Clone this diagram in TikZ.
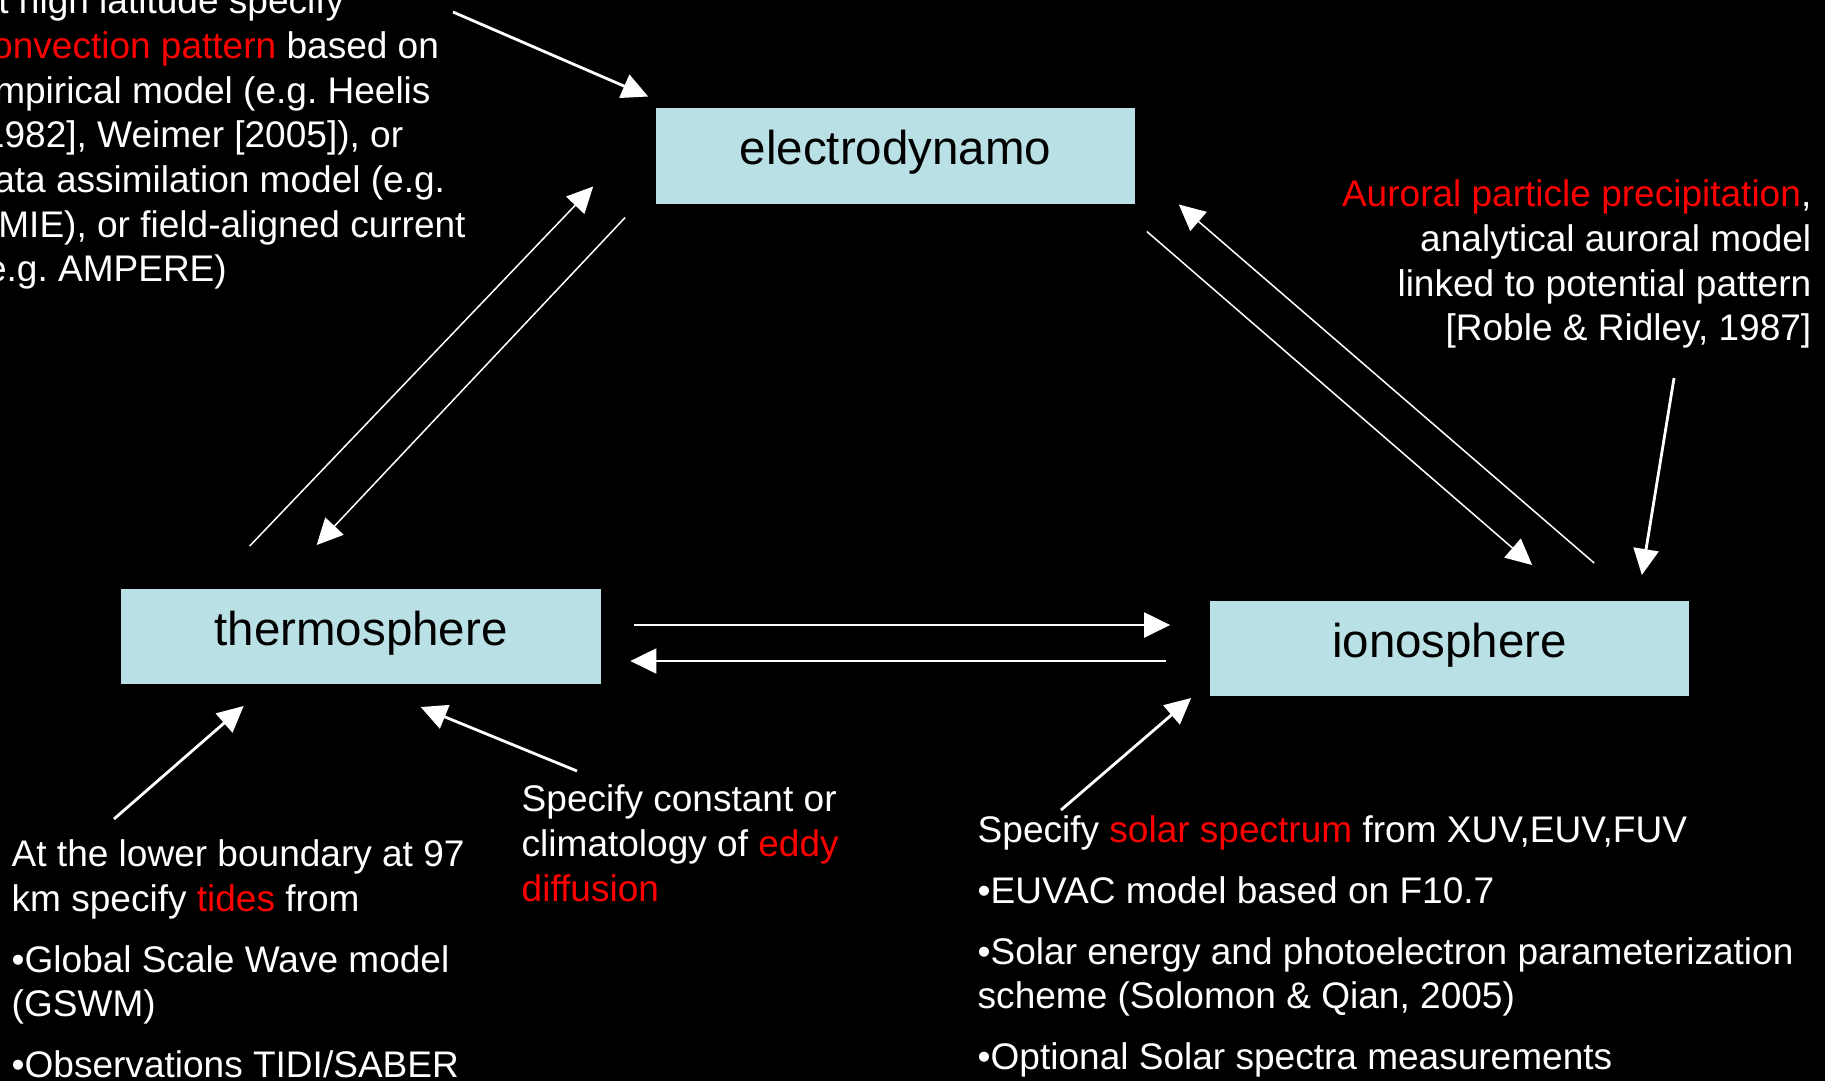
\documentclass[tikz,border=0pt]{standalone}
\usepackage{fontspec}
\setmainfont{Liberation Sans}
\usetikzlibrary{arrows.meta}

\definecolor{boxblue}{RGB}{185,224,228}
\newcommand{\redtxt}[1]{\textcolor{red}{#1}}
\frenchspacing

\begin{document}
\begin{tikzpicture}[x=0.01cm, y=-0.01cm,
    module/.style={fill=boxblue, text=black, minimum width=4.79cm, minimum height=0.955cm,
        inner sep=0pt, font=\fontsize{13.5}{16}\selectfont, text height=0.34cm, text depth=0.17cm},
    note/.style={text=white, inner sep=0pt, font=\fontsize{10.53}{12.72}\selectfont},
    flow/.style={draw=white, line width=0.43pt, -{Triangle[length=0.26cm, width=0.25cm]}},
    feed/.style={flow, line width=0.8pt}]

    \useasboundingbox (0,0) rectangle (1825,1081);
    \clip (0,0) rectangle (1825,1081);
    \fill[black] (0,0) rectangle (1825,1081);

    % the three model components
    \node[module] (electro) at (895.5,156) {electrodynamo};
    \node[module] (thermo) at (361,636.5) {thermosphere};
    \node[module] (iono) at (1449.5,648.5) {ionosphere};

    % inputs
    \node[note, align=left, anchor=north west] (hilat) at (-27,-14)
        {At high latitude specify\\
         \redtxt{convection pattern} based on\\
         empirical model (e.g. Heelis\\
         {[}1982], Weimer [2005]), or\\
         data assimilation model (e.g.\\
         AMIE), or field-aligned current\\
         (e.g. AMPERE)};
    \node[note, align=right, anchor=north east] (auroral) at (1812,179)
        {\redtxt{Auroral particle precipitation},\\
         analytical auroral model\\
         linked to potential pattern\\
         {[}Roble \& Ridley, 1987]};
    \node[note, align=left, anchor=north west] (tides) at (11,839)
        {At the lower boundary at 97\\
         km specify \redtxt{tides} from\\[0.16cm]
         •Global Scale Wave model\\
         (GSWM)\\[0.16cm]
         •Observations TIDI/SABER};
    \node[note, align=left, anchor=north west] (eddy) at (521,784)
        {Specify constant or\\
         climatology of \redtxt{eddy}\\
         \redtxt{diffusion}};
    \node[note, align=left, anchor=north west] (solar) at (977,815)
        {Specify \redtxt{solar spectrum} from XUV,EUV,FUV\\[0.16cm]
         •EUVAC model based on F10.7\\[0.16cm]
         •Solar energy and photoelectron parameterization\\
         scheme (Solomon \& Qian, 2005)\\[0.16cm]
         •Optional Solar spectra measurements};

    % couplings between components
    \draw[flow] ([shift={(129,-42)}]thermo.north west) -- ([shift={(-62,-18)}]electro.south west);
    \draw[flow] ([shift={(-30,13)}]electro.south west) -- ([shift={(196,-43)}]thermo.north west);
    \draw[flow] ([shift={(11,27)}]electro.south east) -- ([shift={(323,-35)}]iono.north west);
    \draw[flow] ([shift={(385,-37)}]iono.north west) -- ([shift={(43,0)}]electro.south east);
    \draw[flow, line width=0.57pt] ([shift={(33,-11.5)}]thermo.east) -- ([shift={(-39,-23.5)}]iono.west);
    \draw[flow, line width=0.57pt] ([shift={(-43,12.5)}]iono.west) -- ([shift={(29,24.5)}]thermo.east);

    % external drivers
    \draw[feed] ([shift={(480,26)}]hilat.north west) -- ([shift={(-7,-11)}]electro.north west);
    \draw[feed] ([shift={(-138,199)}]auroral.north east) -- ([shift={(-48,-25)}]iono.north east);
    \draw[feed] ([shift={(103,-20)}]tides.north west) -- ([shift={(123,21)}]thermo.south west);
    \draw[feed] ([shift={(56,-13)}]eddy.north west) -- ([shift={(300,22)}]thermo.south west);
    \draw[feed] ([shift={(84,-5)}]solar.north west) -- ([shift={(-18,1)}]iono.south west);

\end{tikzpicture}
\end{document}
